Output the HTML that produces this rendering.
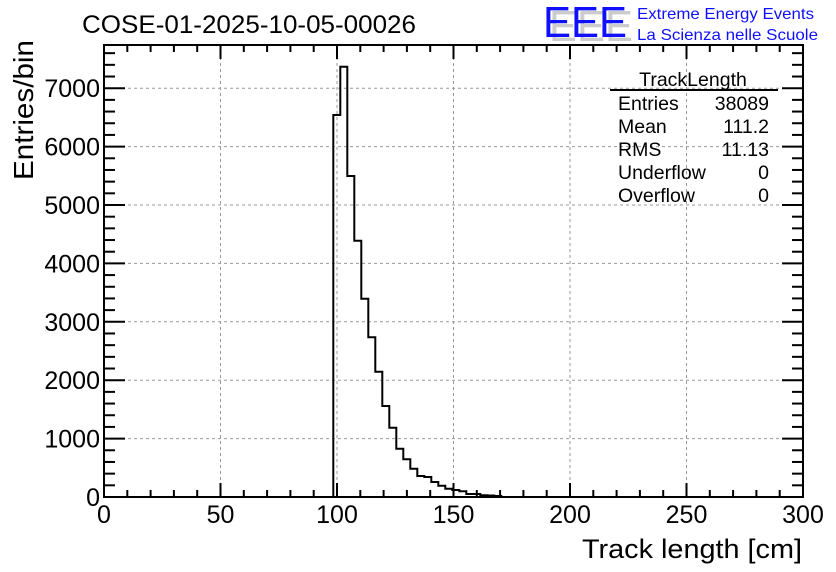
<!DOCTYPE html>
<html><head><meta charset="utf-8"><style>
html,body{margin:0;padding:0;background:#fff;}
svg{display:block;font-family:"Liberation Sans",sans-serif;}
</style></head><body>
<svg id="s" width="836" height="572" viewBox="0 0 836 572" xmlns="http://www.w3.org/2000/svg">
<rect width="836" height="572" fill="#fff"/>
<g id="grid"></g>
<g id="ticks"></g>
<path id="hist" fill="none" stroke="#000" stroke-width="2"/>
<rect x="104" y="45" width="699" height="452" fill="none" stroke="#000" stroke-width="2"/>
<g id="labels" font-size="25" fill="#000"></g>
<text x="82" y="33" font-size="25" textLength="334" lengthAdjust="spacingAndGlyphs">COSE-01-2025-10-05-00026</text>
<g font-size="44">
<text x="549" y="41" fill="#ccc" textLength="84" lengthAdjust="spacingAndGlyphs">EEE</text>
<text x="543" y="37" fill="#1010ff" textLength="84" lengthAdjust="spacingAndGlyphs">EEE</text>
</g>
<text x="637" y="19" font-size="16" fill="#1010ff" textLength="177" lengthAdjust="spacingAndGlyphs">Extreme Energy Events</text>
<text x="637" y="40" font-size="16" fill="#1010ff" textLength="181" lengthAdjust="spacingAndGlyphs">La Scienza nelle Scuole</text>
<text x="693" y="86" font-size="19.5" text-anchor="middle">TrackLength</text>
<line x1="610" y1="90" x2="778" y2="90" stroke="#000" stroke-width="2"/>
<g font-size="19.5">
<text x="618" y="110">Entries</text><text x="769" y="110" text-anchor="end">38089</text>
<text x="618" y="133">Mean</text><text x="769" y="133" text-anchor="end">111.2</text>
<text x="618" y="156">RMS</text><text x="769" y="156" text-anchor="end">11.13</text>
<text x="618" y="179">Underflow</text><text x="769" y="179" text-anchor="end">0</text>
<text x="618" y="202">Overflow</text><text x="769" y="202" text-anchor="end">0</text>
</g>
<text x="802" y="558" font-size="27" text-anchor="end" textLength="220" lengthAdjust="spacingAndGlyphs">Track length [cm]</text>
<text transform="translate(33,110) rotate(-90)" font-size="28" text-anchor="middle" textLength="140" lengthAdjust="spacingAndGlyphs">Entries/bin</text>
</svg>
<script>
var ns="http://www.w3.org/2000/svg";
function el(p,t,a,txt){var e=document.createElementNS(ns,t);for(var k in a)e.setAttribute(k,a[k]);if(txt!=null)e.textContent=txt;document.getElementById(p).appendChild(e);}
var X0=104,X1=803,Y0=497,Y1=45,sx=(X1-X0)/300,sy=58.4/1000;
for(var v=0;v<=300;v+=10){var x=X0+v*sx;var maj=v%50==0;
 if(maj&&v>0&&v<300)el("grid","line",{x1:x,y1:Y1,x2:x,y2:Y0,stroke:"#999","stroke-dasharray":"3,3","stroke-width":1});
 var L=maj?14:7;
 el("ticks","line",{x1:x,y1:Y0,x2:x,y2:Y0-L,stroke:"#000","stroke-width":2});
 el("ticks","line",{x1:x,y1:Y1,x2:x,y2:Y1+L,stroke:"#000","stroke-width":2});
 if(maj)el("labels","text",{x:x,y:523,"text-anchor":"middle"},v);}
for(var v=0;v<=7600;v+=200){var y=Y0-v*sy;if(y<Y1)break;var maj=v%1000==0;
 if(maj&&v>0)el("grid","line",{x1:X0,y1:y,x2:X1,y2:y,stroke:"#999","stroke-dasharray":"3,3","stroke-width":1});
 var L=maj?21:11;
 el("ticks","line",{x1:X0,y1:y,x2:X0+L,y2:y,stroke:"#000","stroke-width":2});
 el("ticks","line",{x1:X1,y1:y,x2:X1-L,y2:y,stroke:"#000","stroke-width":2});
 if(maj)el("labels","text",{x:100,y:y+9,"text-anchor":"end"},v);}
var tops=[115,66.7,176,240.7,298.7,337.3,371.7,406,427.7,448.7,459.3,468.7,476,477,482,485.7,488.7,490,491.3,494,494,495.3,495.5,496];
var x=333.3,d="M"+x+",497";
for(var i=0;i<tops.length;i++){d+=" L"+x+","+tops[i]+" L"+(x+7)+","+tops[i];x+=7;}
d+=" L"+x+",497";
document.getElementById("hist").setAttribute("d",d);
</script>
</body></html>
